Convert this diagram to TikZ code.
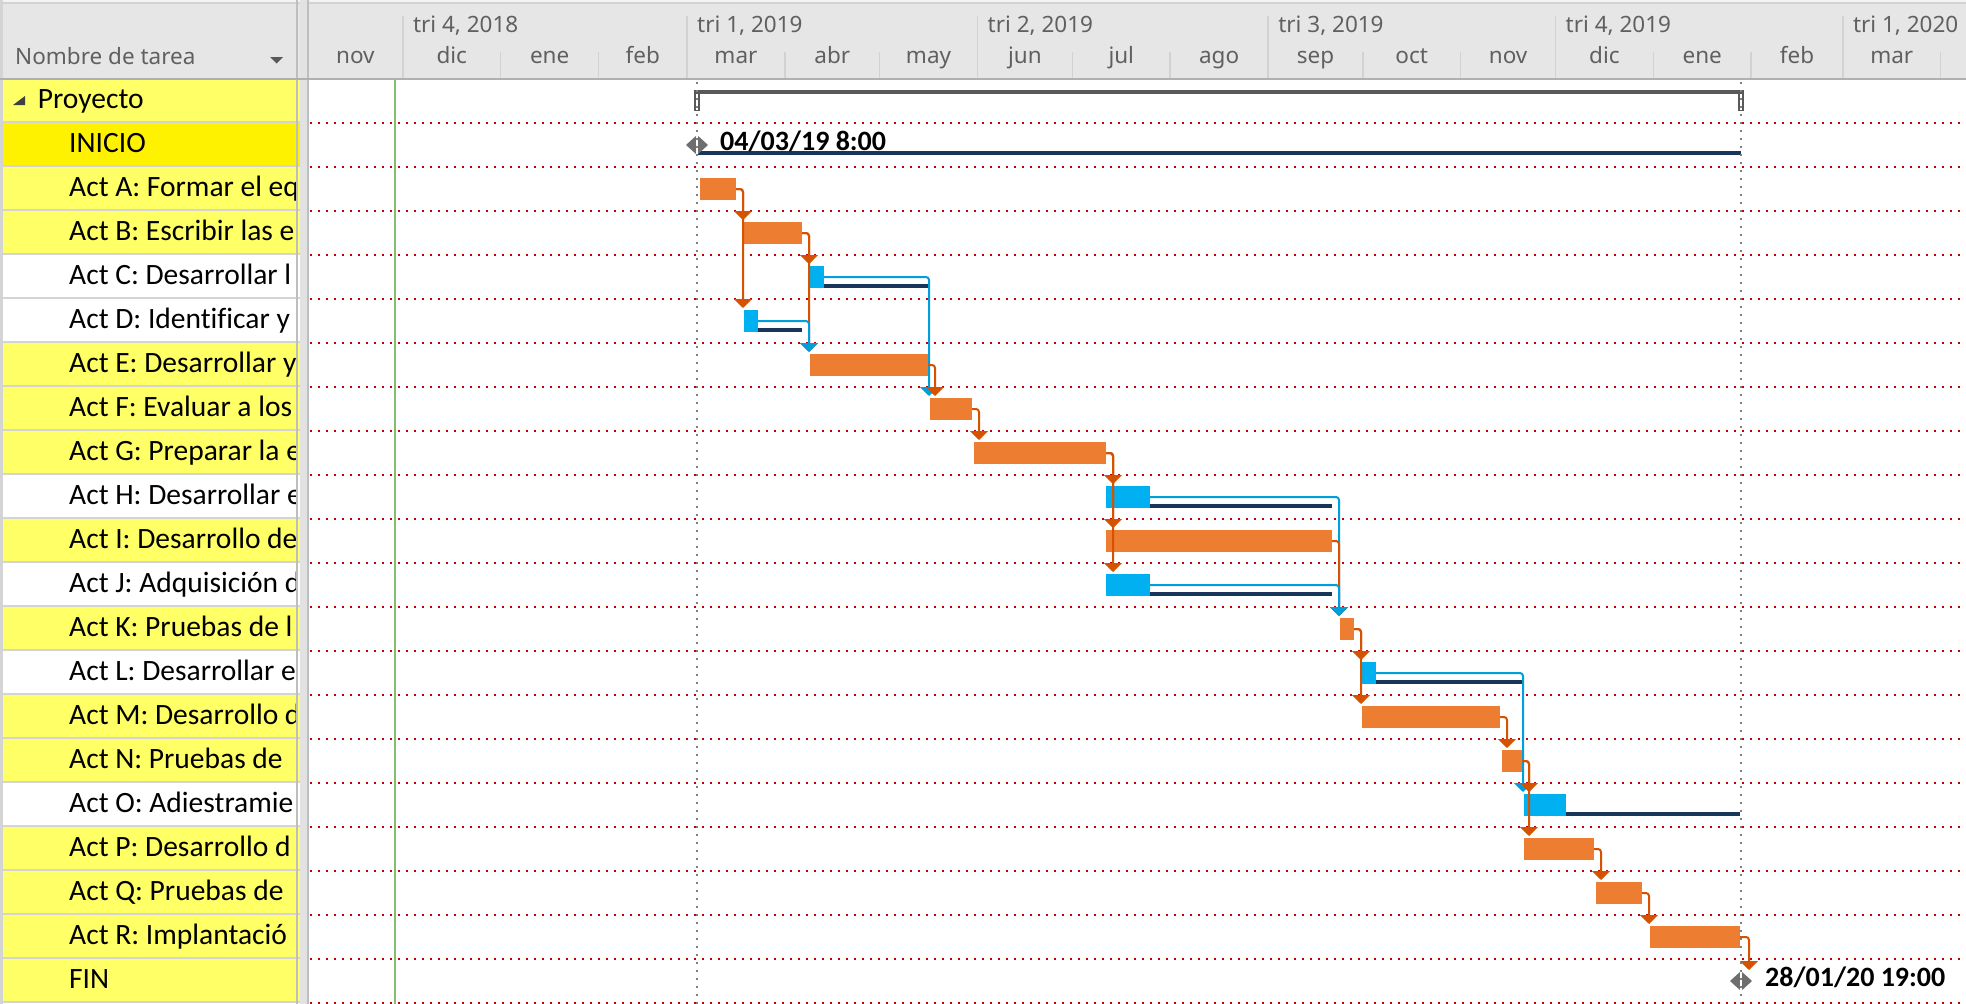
\documentclass[tikz,border=0pt]{standalone}
\usepackage{fontspec}
\setmainfont{Carlito}[Ligatures=CommonOff]
\newfontfamily\hdrfont{Noto Sans}
\usetikzlibrary{arrows.meta,shapes.geometric}
\definecolor{barorange}{RGB}{237,125,49}
\definecolor{barblue}{RGB}{0,176,240}
\definecolor{navyline}{RGB}{24,54,92}
\definecolor{linkorange}{RGB}{212,82,0}
\definecolor{linkblue}{RGB}{0,158,219}
\definecolor{dotred}{RGB}{192,0,0}
\definecolor{dotgray}{RGB}{128,128,128}
\definecolor{ylw}{RGB}{255,255,102}
\definecolor{ylwbright}{RGB}{255,242,0}
\definecolor{hdrbg}{RGB}{230,230,230}
\definecolor{hdrtop}{RGB}{244,244,244}
\definecolor{hdrsep}{RGB}{210,210,210}
\definecolor{hdrbottom}{RGB}{176,176,176}
\definecolor{gridgray}{RGB}{212,212,212}
\definecolor{splitlight}{RGB}{226,226,226}
\definecolor{splitdark}{RGB}{190,190,190}
\definecolor{hdrtext}{RGB}{96,96,96}
\definecolor{msgray}{RGB}{110,110,110}
\definecolor{sumgray}{RGB}{89,89,89}
\definecolor{tridark}{RGB}{64,64,64}
\definecolor{todaygreen}{RGB}{130,190,110}
\begin{document}
\begin{tikzpicture}[x=1pt,y=-1pt,
  obar/.style={rectangle, fill=barorange, inner sep=0pt, outer sep=0pt, minimum height=22pt, anchor=north west},
  bbar/.style={obar, fill=barblue},
  slackbar/.style={rectangle, fill=navyline, inner sep=0pt, outer sep=0pt, minimum height=4pt, anchor=north west},
  olink/.style={color=linkorange, line width=2pt, rounded corners=3pt, -{Triangle[width=18pt,length=9pt]}},
  blink/.style={olink, color=linkblue},
  rdot/.style={dotred, line width=2pt, dash pattern=on 2pt off 6pt},
  gdot/.style={dotgray, line width=2pt, dash pattern=on 2pt off 6pt},
  msdiamond/.style={diamond, fill=msgray, inner sep=0pt, outer sep=0pt, minimum width=22pt, minimum height=20pt},
  hdrlabel/.style={font={\hdrfont\fontsize{22.5}{26}\selectfont}, text=hdrtext, inner sep=0pt},
  taskname/.style={anchor=base west, inner sep=0pt, font={\fontsize{29.5}{34}\selectfont}, text=black},
  mslabel/.style={anchor=base west, inner sep=0pt, font={\bfseries\fontsize{28}{34}\selectfont}, text=black},
  hdrsepline/.style={hdrsep, line width=1.5pt},
  rowline/.style={gridgray, line width=2pt}
]
\useasboundingbox (0,0) rectangle (1966,1004);
\fill[white] (0,0) rectangle (1966,1004);
% header
\fill[hdrbg] (0,0) rectangle (1966,79);
\fill[hdrtop] (0,0) rectangle (1966,2.2);
\draw[hdrsep, line width=1.2pt] (0,3) -- (1966,3);
% left panel rows
\foreach \yy/\cc in {79/ylw,123/ylwbright,167/ylw,211/ylw,255/white,299/white,343/ylw,387/ylw,431/ylw,475/white,519/ylw,563/white,607/ylw,651/white,695/ylw,739/ylw,783/white,827/ylw,871/ylw,915/ylw,959/ylw}
  \fill[\cc] (0,\yy) rectangle (300,\yy+44);
\foreach \yy in {123,167,...,1003}
  \draw[rowline] (0,\yy-1) -- (300,\yy-1);
\draw[gridgray, line width=2.7pt] (1.3,0) -- (1.3,1004);
\draw[splitdark, line width=2pt] (296.7,0) -- (296.7,1004);
\fill[splitlight] (300,0) rectangle (307.3,1004);
\fill[splitdark] (307.3,0) rectangle (309.3,1004);
\draw[hdrbottom, line width=2pt] (0,79) -- (1966,79);
% left header
\node[hdrlabel, anchor=base west] (colhdr) at (15,64) {Nombre de tarea};
\fill[sumgray] (270,57) -- (283,57) -- (276.5,63.5) -- cycle;
\fill[tridark] (25,96) -- (25,105) -- (13,105) -- cycle;
% task names
\begin{scope}
\clip (0,79) rectangle (295.5,1004);
\node[taskname] (tP) at (37.7,108.5) {Proyecto};
\node[taskname] (t0) at (69,152.5) {INICIO};
\node[taskname] (tA) at (69,196.5) {Act A: Formar el eq};
\node[taskname] (tB) at (69,240.5) {Act B: Escribir las e};
\node[taskname] (tC) at (69,284.5) {Act C: Desarrollar l};
\node[taskname] (tD) at (69,328.5) {Act D: Identificar y};
\node[taskname] (tE) at (69,372.5) {Act E: Desarrollar y};
\node[taskname] (tF) at (69,416.5) {Act F: Evaluar a los};
\node[taskname] (tG) at (69,460.5) {Act G: Preparar la e};
\node[taskname] (tH) at (69,504.5) {Act H: Desarrollar e};
\node[taskname] (tI) at (69,548.5) {Act I: Desarrollo de};
\node[taskname] (tJ) at (69,592.5) {Act J: Adquisición d};
\node[taskname] (tK) at (69,636.5) {Act K: Pruebas de l};
\node[taskname] (tL) at (69,680.5) {Act L: Desarrollar e};
\node[taskname] (tM) at (69,724.5) {Act M: Desarrollo d};
\node[taskname] (tN) at (69,768.5) {Act N: Pruebas de};
\node[taskname] (tO) at (69,812.5) {Act O: Adiestramie};
\node[taskname] (tQP) at (69,856.5) {Act P: Desarrollo d};
\node[taskname] (tQ) at (69,900.5) {Act Q: Pruebas de};
\node[taskname] (tR) at (69,944.5) {Act R: Implantació};
\node[taskname] (tFIN) at (69,988.5) {FIN};
\end{scope}
% timeline header
\foreach \xx in {402.8,687,977.5,1268.1,1555.5,1842.8}
  \draw[hdrsepline] (\xx,16) -- (\xx,78);
\foreach \xx in {500.7,598.6,784.9,879.6,1072.3,1170.2,1362.8,1460.7,1653.3,1751.2,1940.7}
  \draw[hdrsepline] (\xx,52) -- (\xx,78);
\node[hdrlabel, anchor=base west] (q1) at (412.8,32) {tri 4, 2018};
\node[hdrlabel, anchor=base west] (q2) at (697,32) {tri 1, 2019};
\node[hdrlabel, anchor=base west] (q3) at (987.5,32) {tri 2, 2019};
\node[hdrlabel, anchor=base west] (q4) at (1278.1,32) {tri 3, 2019};
\node[hdrlabel, anchor=base west] (q5) at (1565.5,32) {tri 4, 2019};
\node[hdrlabel, anchor=base west] (q6) at (1852.8,32) {tri 1, 2020};
\foreach \xx/\mm [count=\i] in {355.4/nov,451.75/dic,549.65/ene,642.8/feb,735.95/mar,832.25/abr,928.55/may,1024.9/jun,1121.25/jul,1219.15/ago,1315.45/sep,1411.75/oct,1508.1/nov,1604.4/dic,1702.25/ene,1797/feb,1891.75/mar}
  \node[hdrlabel, anchor=base] (m\i) at (\xx,63.5) {\mm};
% chart grid
\foreach \yy in {123,167,...,1003}
  \draw[rdot] (310,\yy) -- (1966,\yy);
\draw[todaygreen, line width=2pt] (395,80) -- (395,1004);
% summary bar
\node[rectangle, fill=sumgray, inner sep=0pt, outer sep=0pt, minimum width=1050pt, minimum height=4pt, anchor=north west] (SUM) at (694,90) {};
\draw[sumgray, line width=1.5pt] (694.75,92) rectangle (698.75,110.5);
\draw[sumgray, line width=1.5pt] (1739,92) rectangle (1743,110.5);
% INICIO slack
\node[slackbar, minimum width=1043pt] (INIs) at (698,151) {};
% bars
\node[obar, minimum width=36pt] (A) at (700,178) {};
\node[obar, minimum width=58pt] (B) at (744,222) {};
\node[slackbar, minimum width=104pt] (Cs) at (824,284) {};
\node[bbar, minimum width=14pt] (C) at (810,266) {};
\node[slackbar, minimum width=44pt] (Ds) at (758,328) {};
\node[bbar, minimum width=14pt] (D) at (744,310) {};
\node[obar, minimum width=118pt] (E) at (810,354) {};
\node[obar, minimum width=42pt] (F) at (930,398) {};
\node[obar, minimum width=132pt] (G) at (974,442) {};
\node[slackbar, minimum width=182pt] (Hs) at (1150,504) {};
\node[bbar, minimum width=44pt] (H) at (1106,486) {};
\node[obar, minimum width=226pt] (I) at (1106,530) {};
\node[slackbar, minimum width=182pt] (Js) at (1150,592) {};
\node[bbar, minimum width=44pt] (J) at (1106,574) {};
\node[obar, minimum width=14pt] (K) at (1340,618) {};
\node[slackbar, minimum width=146pt] (Ls) at (1376,680) {};
\node[bbar, minimum width=14pt] (L) at (1362,662) {};
\node[obar, minimum width=138pt] (M) at (1362,706) {};
\node[obar, minimum width=20pt] (N) at (1502,750) {};
\node[slackbar, minimum width=174pt] (Os) at (1566,812) {};
\node[bbar, minimum width=42pt] (O) at (1524,794) {};
\node[obar, minimum width=70pt] (P) at (1524,838) {};
\node[obar, minimum width=46pt] (Q) at (1596,882) {};
\node[obar, minimum width=90pt] (R) at (1650,926) {};
% milestones
\node[msdiamond] (INI) at (697,145) {};
\node[msdiamond] (FIN) at (1741,981) {};
\draw[white, line width=1.5pt] (INI.north) -- (INI.south);
\draw[white, line width=1.5pt] (FIN.north) -- (FIN.south);
\node[mslabel] (INIlbl) at (720,150) {04/03/19 8:00};
\node[mslabel] (FINlbl) at (1765,986) {28/01/20 19:00};
% links
\draw[olink] (A.east) -| ([xshift=-1pt,yshift=2pt]B.north west);
\draw[olink] (A.east) -| ([xshift=-1pt,yshift=2pt]D.north west);
\draw[olink] (B.east) -| ([xshift=-1pt,yshift=2pt]C.north west);
\draw[olink] (B.east) -| ([xshift=-1pt,yshift=2pt]E.north west);
\draw[blink] (C.east) -| ([xshift=-1pt,yshift=2pt]F.north west);
\draw[blink] (D.east) -| ([xshift=-1pt,yshift=2pt]E.north west);
\draw[olink] (E.east) -| ([xshift=5pt,yshift=2pt]F.north west);
\draw[olink] (F.east) -| ([xshift=5pt,yshift=2pt]G.north west);
\draw[olink] (G.east) -| ([xshift=7pt,yshift=2pt]H.north west);
\draw[olink] (G.east) -| ([xshift=7pt,yshift=2pt]I.north west);
\draw[olink] (G.east) -| ([xshift=7pt,yshift=2pt]J.north west);
\draw[blink] (H.east) -| ([xshift=-1pt,yshift=2pt]K.north west);
\draw[olink] (I.east) -| ([xshift=-1pt,yshift=2pt]K.north west);
\draw[blink] (J.east) -| ([xshift=-1pt,yshift=2pt]K.north west);
\draw[olink] (K.east) -| ([xshift=-1pt,yshift=2pt]L.north west);
\draw[olink] (K.east) -| ([xshift=-1pt,yshift=2pt]M.north west);
\draw[blink] (L.east) -| ([xshift=-1pt,yshift=2pt]O.north west);
\draw[olink] (M.east) -| ([xshift=5pt,yshift=2pt]N.north west);
\draw[olink] (N.east) -| ([xshift=5pt,yshift=2pt]O.north west);
\draw[olink] (N.east) -| ([xshift=5pt,yshift=2pt]P.north west);
\draw[olink] (P.east) -| ([xshift=5pt,yshift=2pt]Q.north west);
\draw[olink] (Q.east) -| ([xshift=-1pt,yshift=2pt]R.north west);
\draw[olink] (R.east) -| ([xshift=8pt,yshift=1pt]FIN.north);
% project start / end lines
\draw[gdot] (697,82) -- (697,1004);
\draw[gdot] (1741,82) -- (1741,1004);
\end{tikzpicture}
\end{document}
